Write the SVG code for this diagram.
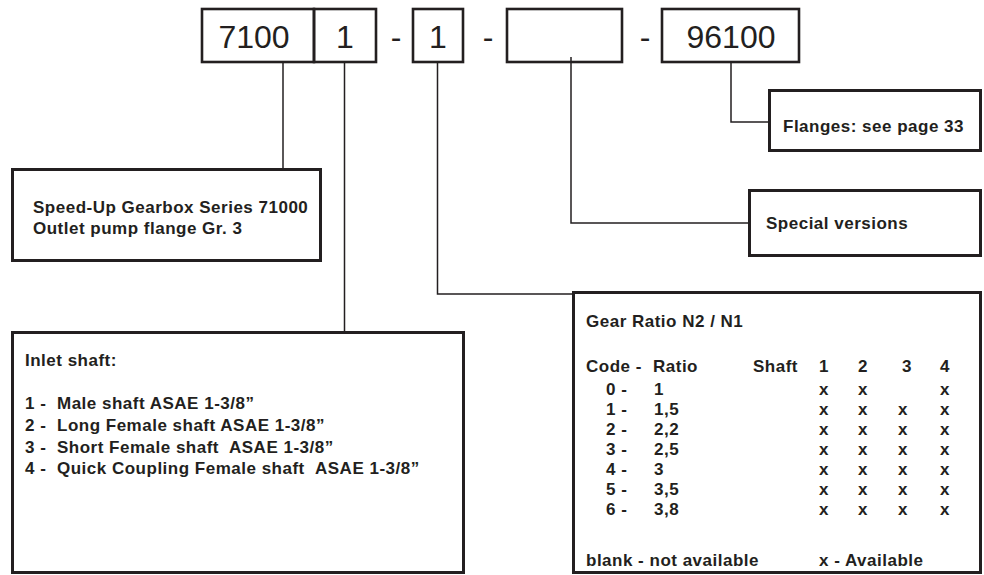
<svg xmlns="http://www.w3.org/2000/svg" width="984" height="575" viewBox="0 0 984 575">
<style>
.code{fill:none;stroke:#231f20;stroke-width:2.6}
.box{fill:#fff;stroke:#231f20;stroke-width:3}
.conn{fill:none;stroke:#231f20;stroke-width:1.5}
.big{font-family:"Liberation Sans",Arial,sans-serif;font-size:32px;fill:#231f20}
.t{font-family:"Liberation Sans",Arial,sans-serif;font-size:17px;font-weight:bold;fill:#231f20;letter-spacing:0.5px}
</style>
<rect width="984" height="575" fill="#fff"/>
<g id="connectors">
<polyline class="conn" points="283,63 283,168"/>
<polyline class="conn" points="344.5,63 344.5,331"/>
<polyline class="conn" points="437.5,62 437.5,294 573,294"/>
<polyline class="conn" points="571,57 571,223 749,223"/>
<polyline class="conn" points="731,62 731,122 769,122"/>
</g>
<g id="code">
<rect class="code" x="202" y="9" width="112" height="53"/>
<rect class="code" x="314" y="9" width="62" height="53"/>
<rect class="code" x="413" y="9" width="50" height="53"/>
<rect class="code" x="507" y="9" width="115" height="53"/>
<rect class="code" x="662" y="9" width="137" height="53"/>
<text class="big" x="254" y="48" text-anchor="middle">7100</text>
<text class="big" x="345" y="48" text-anchor="middle">1</text>
<text class="big" x="396" y="48" text-anchor="middle">-</text>
<text class="big" x="438" y="48" text-anchor="middle">1</text>
<text class="big" x="488" y="48" text-anchor="middle">-</text>
<text class="big" x="645" y="48" text-anchor="middle">-</text>
<text class="big" x="731" y="48" text-anchor="middle">96100</text>
</g>
<g id="flanges">
<rect class="box" x="769.5" y="90.5" width="211" height="60"/>
<text class="t" x="783" y="132">Flanges: see page 33</text>
</g>
<g id="special">
<rect class="box" x="749.5" y="190.5" width="231" height="65"/>
<text class="t" x="766" y="229">Special versions</text>
</g>
<g id="series">
<rect class="box" x="12.5" y="169.5" width="308" height="91"/>
<text class="t" x="33" y="212.5">Speed-Up Gearbox Series 71000</text>
<text class="t" x="33" y="234">Outlet pump flange Gr. 3</text>
</g>
<g id="inlet">
<rect class="box" x="12.5" y="332.5" width="451" height="240"/>
<text class="t" x="25" y="366">Inlet shaft:</text>
<text class="t" x="25" y="409">1 -</text><text class="t" x="57" y="409">Male shaft ASAE 1-3/8”</text>
<text class="t" x="25" y="431">2 -</text><text class="t" x="57" y="431">Long Female shaft ASAE 1-3/8”</text>
<text class="t" x="25" y="452.5">3 -</text><text class="t" x="57" y="452.5">Short Female shaft</text><text class="t" x="229" y="452.5">ASAE 1-3/8”</text>
<text class="t" x="25" y="474">4 -</text><text class="t" x="57" y="474">Quick Coupling Female shaft</text><text class="t" x="315" y="474">ASAE 1-3/8”</text>
</g>
<g id="ratio">
<rect class="box" x="573.5" y="292.5" width="407" height="280"/>
<text class="t" x="586" y="327">Gear Ratio N2 / N1</text>
<text class="t" x="586" y="372">Code -</text>
<text class="t" x="653" y="372">Ratio</text>
<text class="t" x="753" y="372">Shaft</text>
<text class="t" x="819" y="372">1</text>
<text class="t" x="858" y="372">2</text>
<text class="t" x="902" y="372">3</text>
<text class="t" x="940" y="372">4</text>
<g class="t">
<text x="606" y="394.5">0 -</text><text x="654" y="394.5">1</text>
<text x="606" y="414.5">1 -</text><text x="654" y="414.5">1,5</text>
<text x="606" y="434.5">2 -</text><text x="654" y="434.5">2,2</text>
<text x="606" y="454.5">3 -</text><text x="654" y="454.5">2,5</text>
<text x="606" y="474.5">4 -</text><text x="654" y="474.5">3</text>
<text x="606" y="494.5">5 -</text><text x="654" y="494.5">3,5</text>
<text x="606" y="514.5">6 -</text><text x="654" y="514.5">3,8</text>
<text x="819" y="394.5">x</text><text x="858" y="394.5">x</text><text x="940" y="394.5">x</text>
<text x="819" y="414.5">x</text><text x="858" y="414.5">x</text><text x="898" y="414.5">x</text><text x="940" y="414.5">x</text>
<text x="819" y="434.5">x</text><text x="858" y="434.5">x</text><text x="898" y="434.5">x</text><text x="940" y="434.5">x</text>
<text x="819" y="454.5">x</text><text x="858" y="454.5">x</text><text x="898" y="454.5">x</text><text x="940" y="454.5">x</text>
<text x="819" y="474.5">x</text><text x="858" y="474.5">x</text><text x="898" y="474.5">x</text><text x="940" y="474.5">x</text>
<text x="819" y="494.5">x</text><text x="858" y="494.5">x</text><text x="898" y="494.5">x</text><text x="940" y="494.5">x</text>
<text x="819" y="514.5">x</text><text x="858" y="514.5">x</text><text x="898" y="514.5">x</text><text x="940" y="514.5">x</text>
</g>
<text class="t" x="586" y="566">blank - not available</text>
<text class="t" x="819" y="566">x - Available</text>
</g>
</svg>
